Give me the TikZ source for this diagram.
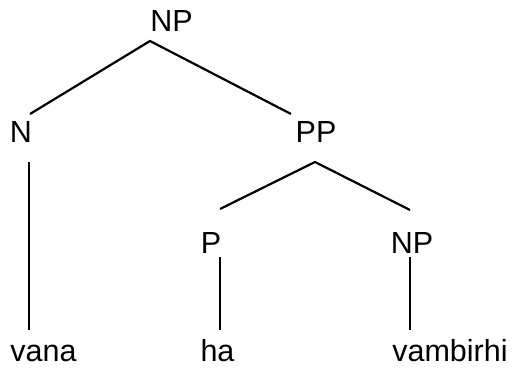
\documentclass[tikz,border=0pt]{standalone}
\usepackage{fontspec}
\setmainfont{Liberation Sans}
\begin{document}
\begin{tikzpicture}[x=1pt,y=-1pt,
  lbl/.style={anchor=base,inner sep=0pt,font=\fontsize{30.5}{36}\selectfont},
  edge/.style={line width=2.2pt}]
\useasboundingbox[fill=white] (0,0) rectangle (512,371);
\node[lbl] (np)  at (171.5,32) {NP};
\node[lbl] (n)   at (21,143) {N};
\node[lbl] (pp)  at (316,143) {PP};
\node[lbl] (p)   at (211,254) {P};
\node[lbl] (np2) at (412,254) {NP};
\node[lbl] (w1)  at (43.5,362) {vana};
\node[lbl] (w2)  at (217.5,362) {ha};
\node[lbl] (w3)  at (450,362) {vambirhi};
\coordinate (np-b) at (150,41);
\coordinate (n-t) at (30,114);
\coordinate (pp-t) at (291,114);
\coordinate (n-b) at (29,162);
\coordinate (w1-t) at (29,330);
\coordinate (pp-b) at (315,162);
\coordinate (p-t) at (220,209);
\coordinate (np2-t) at (410,210);
\coordinate (p-b) at (220,257);
\coordinate (w2-t) at (220,330);
\coordinate (np2-b) at (410,257);
\coordinate (w3-t) at (410,330);
\draw[edge] (n-t) -- (np-b) -- (pp-t);
\draw[edge] (n-b) -- (w1-t);
\draw[edge] (p-t) -- (pp-b) -- (np2-t);
\draw[edge] (p-b) -- (w2-t);
\draw[edge] (np2-b) -- (w3-t);
\end{tikzpicture}
\end{document}
